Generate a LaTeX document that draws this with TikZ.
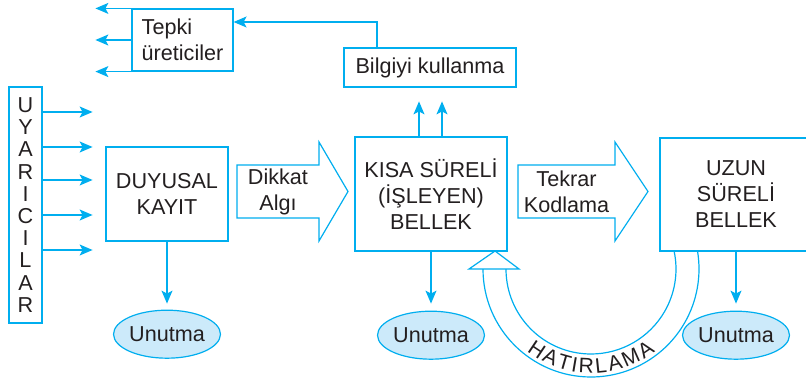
\documentclass[tikz,border=0pt]{standalone}
\usepackage{fontspec}
\setmainfont{Liberation Sans}
\usetikzlibrary{arrows.meta, positioning, shapes.geometric, calc}
\definecolor{cyanline}{RGB}{0,174,239}
\definecolor{unutfill}{RGB}{204,234,250}
\definecolor{txtgray}{RGB}{35,31,32}
\newcommand{\bigfont}{\fontsize{21.6}{26}\selectfont}

\begin{document}
\begin{tikzpicture}[x=1pt, y=1pt,
  box/.style={rectangle, draw=cyanline, line width=1.2pt, fill=white, align=center, font=\bigfont, text=txtgray, inner sep=2pt},
  forget/.style={ellipse, draw=cyanline, line width=1.2pt, fill=unutfill, minimum width=99pt, minimum height=48pt, font=\bigfont, text=txtgray, inner sep=0pt},
  lbl/.style={align=center, font=\bigfont, text=txtgray},
  line/.style={draw=cyanline, line width=1.2pt},
  arr/.style={line, -{Stealth[length=13pt, width=11pt, inset=3pt]}},
  bigarrow/.style={line, fill=white, line join=miter},
]
\useasboundingbox (0,0) rectangle (806,383);

% Boxes
\node[box, minimum width=33pt, minimum height=236pt, font=\fontsize{21.6}{22.2}\selectfont] (uyari) at (25.5,178) {U\\Y\\A\\R\\I\\C\\I\\L\\A\\R};
\node[box, minimum width=101pt, minimum height=62pt, align=left] (tepki) at (182.5,343) {Tepki\\üreticiler};
\node[box, minimum width=172pt, minimum height=39pt] (bilgi) at (430,315.5) {Bilgiyi kullanma};
\node[box, minimum width=122pt, minimum height=94pt] (duyu) at (167,189) {DUYUSAL\\KAYIT};
\node[box, minimum width=152pt, minimum height=114pt] (kisa) at (431,189) {KISA SÜRELİ\\(İŞLEYEN)\\BELLEK};
\node[box, minimum width=152pt, minimum height=113pt] (uzun) at (736,188.5) {UZUN\\SÜRELİ\\BELLEK};

% Forgetting
\node[forget, below=68pt of duyu] (unut1) {Unutma};
\node[forget, below=59pt of kisa] (unut2) {Unutma};
\node[forget, below=59pt of uzun] (unut3) {Unutma};

% Big arrows
\draw[bigarrow] (237,218) -- (319,218) -- (319,241) -- (348,191.5) -- (319,142) -- (319,165) -- (237,165) -- cycle;
\node[lbl] (dikkat) at (278,191.5) {Dikkat\\Algı};
\draw[bigarrow] (518,218) -- (615,218) -- (615,241) -- (648,191.5) -- (615,142) -- (615,165) -- (518,165) -- cycle;
\node[lbl] (tekrar) at (566.5,191.5) {Tekrar\\Kodlama};

% Arrows
\foreach \y in {271,236,203,168,133}
  \draw[arr] (uyari.east |- 0,\y) -- ++(50,0);
\foreach \a in {north west, west, south west}
  \draw[arr] (tepki.\a) -- ++(-36,0);
\draw[arr] ([xshift=-53pt]bilgi.north) |- ([yshift=18pt]tepki.east);
\draw[arr] ([xshift=-12pt]kisa.north) -- ++(0,35);
\draw[arr] ([xshift=11pt]kisa.north) -- ++(0,35);
\draw[arr, shorten >=6pt] (duyu) -- (unut1);
\draw[arr, shorten >=7pt] (kisa) -- (unut2);
\draw[arr, shorten >=7pt] (uzun) -- (unut3);

% Retrieval
\coordinate (hc) at (591,114);
\draw[line] ([shift={(180:108)}]hc) arc[start angle=180, end angle=369.6, radius=108];
\draw[line] ([shift={(180:85)}]hc) arc[start angle=180, end angle=372.2, radius=85];
\draw[bigarrow] (469,114) -- (519,114) -- (495,132) -- cycle;
\foreach \ch/\ang [count=\i] in {H/-33.9, A/-24.5, T/-15.9, I/-9.7, R/-2.8, L/5.9, A/14.2, M/24.2, A/34.2}
  \node[lbl, font=\fontsize{21}{24}\selectfont, rotate=\ang, inner sep=0pt] (hat\i) at ($(hc)+(270+\ang:97)$) {\ch};
\end{tikzpicture}
\end{document}
